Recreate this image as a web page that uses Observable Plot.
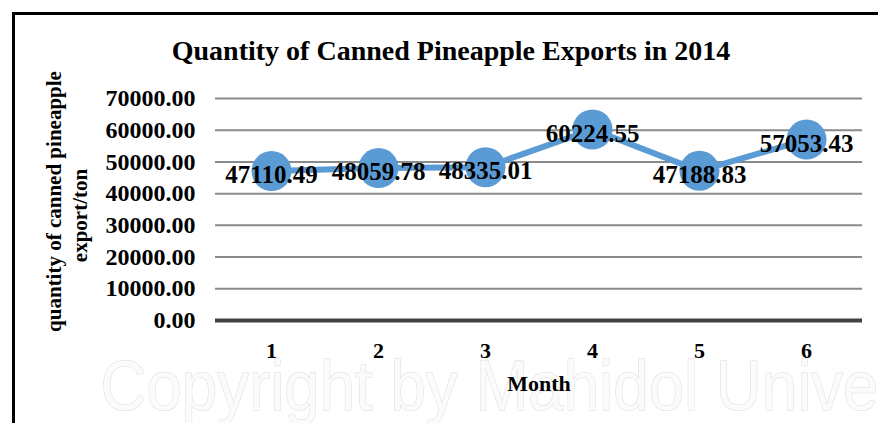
<!DOCTYPE html>
<html>
<head>
<meta charset="utf-8">
<script src="https://cdn.jsdelivr.net/npm/d3@7"></script>
<script src="https://cdn.jsdelivr.net/npm/@observablehq/plot@0.6"></script>
<style>
  html, body { margin: 0; padding: 0; background: #fff; }
  #wrap { position: relative; width: 878px; height: 423px; overflow: hidden; }
  #border { position: absolute; left: 12px; top: 12px; width: 900px; height: 440px; border-left: 3px solid #000; border-top: 3px solid #000; box-sizing: border-box; pointer-events: none; }
  svg { position: absolute; left: 0; top: 0; background: transparent; }
</style>
</head>
<body>
<div id="wrap"><div id="border"></div></div>
<script>
const months = [1, 2, 3, 4, 5, 6];
const quantities = [47110.49, 48059.78, 48335.01, 60224.55, 47188.83, 57053.43];
const yTicks = [0, 10000, 20000, 30000, 40000, 50000, 60000, 70000];
const title = "Quantity of Canned Pineapple Exports in 2014";
const yLabel1 = "quantity of canned pineapple";
const yLabel2 = "export/ton";
const xLabel = "Month";
const watermark = "Copyright by Mahidol Unive";

const data = months.map((m, i) => ({month: m, value: quantities[i]}));
const serif = "'Liberation Serif', 'Times New Roman', serif";
const blue = "#5b9bd5";

const chart = Plot.plot({
  width: 878,
  height: 423,
  marginLeft: 215,
  marginRight: 16,
  marginTop: 98,
  marginBottom: 103,
  style: {background: "transparent", fontFamily: serif, fontWeight: "bold", fontSize: "22px", color: "#000"},
  x: {type: "point", domain: months, padding: 0.5, axis: null},
  y: {domain: [0, 70000], axis: null},
  marks: [
    Plot.text([watermark], {frameAnchor: "bottom-left", dx: -115, dy: 89, fontFamily: "'Liberation Sans', Arial, sans-serif", fontWeight: "normal", fontSize: 70, fill: "#fbfbfb", stroke: "#dadada", strokeWidth: 1, textAnchor: "start", lineAnchor: "bottom"}),
    Plot.ruleY(yTicks.filter(d => d > 0), {stroke: "#8a8a8a", strokeWidth: 2}),
    Plot.ruleY([0], {stroke: "#404040", strokeWidth: 4}),
    Plot.axisY({ticks: yTicks, tickFormat: d3.format(".2f"), tickSize: 0, tickPadding: 20, label: null, fontSize: 24, fontWeight: "bold"}),
    Plot.axisX({ticks: months, tickSize: 0, tickPadding: 22, label: null, fontSize: 22, fontWeight: "bold"}),
    Plot.text([xLabel], {frameAnchor: "bottom", dy: 70, fontSize: 22, fontWeight: "bold"}),
    Plot.text([yLabel1], {frameAnchor: "left", dx: -161, dy: -8, rotate: -90, textAnchor: "middle", fontSize: 21, fontWeight: "bold"}),
    Plot.text([yLabel2], {frameAnchor: "left", dx: -135, dy: 6, rotate: -90, textAnchor: "middle", fontSize: 21, fontWeight: "bold"}),
    Plot.text([title], {frameAnchor: "top", dx: -88, dy: -58, fontSize: 28, fontWeight: "bold"}),
    Plot.line(data, {x: "month", y: "value", stroke: blue, strokeWidth: 6}),
    Plot.dot(data, {x: "month", y: "value", r: 20, fill: blue, stroke: null}),
    Plot.text(data, {x: "month", y: "value", text: d => d3.format(".2f")(d.value), dy: 4, fontSize: 25, fontWeight: "bold", fill: "#000"})
  ]
});
d3.select(chart).selectAll("text").filter(function() { return this.textContent === watermark; })
  .attr("textLength", 778).attr("lengthAdjust", "spacingAndGlyphs");
document.getElementById("wrap").insertBefore(chart, document.getElementById("border"));
</script>
</body>
</html>
